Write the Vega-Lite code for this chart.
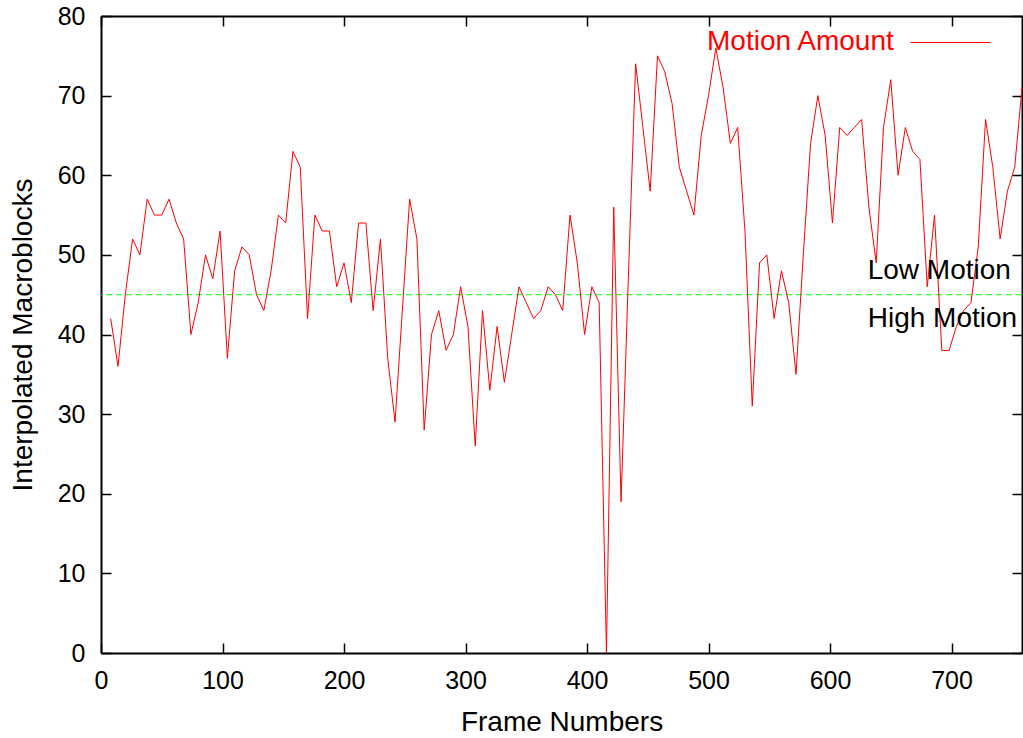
{
  "$schema": "https://vega.github.io/schema/vega-lite/v6.json",
  "width": 921,
  "height": 637,
  "autosize": {"type": "none"},
  "padding": {"left": 101, "top": 16, "right": 1, "bottom": 85},
  "background": "white",
  "config": {
    "view": {"stroke": null},
    "font": "Liberation Sans",
    "axis": {
      "domainColor": "black",
      "domainWidth": 2,
      "tickColor": "black",
      "tickWidth": 1.5,
      "tickSize": -10,
      "grid": false,
      "labelFlush": false,
      "labelOverlap": false,
      "labelFont": "Liberation Sans",
      "labelFontSize": 25,
      "labelColor": "black",
      "titleFont": "Liberation Sans",
      "titleFontSize": 28,
      "titleFontWeight": "normal",
      "titleColor": "black"
    }
  },
  "datasets": {
    "motion": [
      {"frame": 8, "value": 42}, {"frame": 14, "value": 36}, {"frame": 20, "value": 45}, {"frame": 26, "value": 52},
      {"frame": 32, "value": 50}, {"frame": 38, "value": 57}, {"frame": 44, "value": 55}, {"frame": 50, "value": 55},
      {"frame": 56, "value": 57}, {"frame": 62, "value": 54}, {"frame": 68, "value": 52}, {"frame": 74, "value": 40},
      {"frame": 80, "value": 44}, {"frame": 86, "value": 50}, {"frame": 92, "value": 47}, {"frame": 98, "value": 53},
      {"frame": 104, "value": 37}, {"frame": 110, "value": 48}, {"frame": 116, "value": 51}, {"frame": 122, "value": 50},
      {"frame": 128, "value": 45}, {"frame": 134, "value": 43}, {"frame": 140, "value": 48}, {"frame": 146, "value": 55},
      {"frame": 152, "value": 54}, {"frame": 158, "value": 63}, {"frame": 164, "value": 61}, {"frame": 170, "value": 42},
      {"frame": 176, "value": 55}, {"frame": 182, "value": 53}, {"frame": 188, "value": 53}, {"frame": 194, "value": 46},
      {"frame": 200, "value": 49}, {"frame": 206, "value": 44}, {"frame": 212, "value": 54}, {"frame": 218, "value": 54},
      {"frame": 224, "value": 43}, {"frame": 230, "value": 52}, {"frame": 236, "value": 37}, {"frame": 242, "value": 29},
      {"frame": 248, "value": 43}, {"frame": 254, "value": 57}, {"frame": 260, "value": 52}, {"frame": 266, "value": 28},
      {"frame": 272, "value": 40}, {"frame": 278, "value": 43}, {"frame": 284, "value": 38}, {"frame": 290, "value": 40},
      {"frame": 296, "value": 46}, {"frame": 302, "value": 41}, {"frame": 308, "value": 26}, {"frame": 314, "value": 43},
      {"frame": 320, "value": 33}, {"frame": 326, "value": 41}, {"frame": 332, "value": 34}, {"frame": 338, "value": 40},
      {"frame": 344, "value": 46}, {"frame": 350, "value": 44}, {"frame": 356, "value": 42}, {"frame": 362, "value": 43},
      {"frame": 368, "value": 46}, {"frame": 374, "value": 45}, {"frame": 380, "value": 43}, {"frame": 386, "value": 55},
      {"frame": 392, "value": 49}, {"frame": 398, "value": 40}, {"frame": 404, "value": 46}, {"frame": 410, "value": 44},
      {"frame": 416, "value": 0}, {"frame": 422, "value": 56}, {"frame": 428, "value": 19}, {"frame": 434, "value": 47},
      {"frame": 440, "value": 74}, {"frame": 446, "value": 66}, {"frame": 452, "value": 58}, {"frame": 458, "value": 75},
      {"frame": 464, "value": 73}, {"frame": 470, "value": 69}, {"frame": 476, "value": 61}, {"frame": 482, "value": 58},
      {"frame": 488, "value": 55}, {"frame": 494, "value": 65}, {"frame": 500, "value": 70}, {"frame": 506, "value": 76},
      {"frame": 512, "value": 71}, {"frame": 518, "value": 64}, {"frame": 524, "value": 66}, {"frame": 530, "value": 53},
      {"frame": 536, "value": 31}, {"frame": 542, "value": 49}, {"frame": 548, "value": 50}, {"frame": 554, "value": 42},
      {"frame": 560, "value": 48}, {"frame": 566, "value": 44}, {"frame": 572, "value": 35}, {"frame": 578, "value": 50},
      {"frame": 584, "value": 64}, {"frame": 590, "value": 70}, {"frame": 596, "value": 65}, {"frame": 602, "value": 54},
      {"frame": 608, "value": 66}, {"frame": 614, "value": 65}, {"frame": 620, "value": 66}, {"frame": 626, "value": 67},
      {"frame": 632, "value": 56}, {"frame": 638, "value": 49}, {"frame": 644, "value": 66}, {"frame": 650, "value": 72},
      {"frame": 656, "value": 60}, {"frame": 662, "value": 66}, {"frame": 668, "value": 63}, {"frame": 674, "value": 62},
      {"frame": 680, "value": 46}, {"frame": 686, "value": 55}, {"frame": 692, "value": 38}, {"frame": 698, "value": 38},
      {"frame": 704, "value": 41}, {"frame": 710, "value": 43}, {"frame": 716, "value": 44}, {"frame": 722, "value": 51},
      {"frame": 728, "value": 67}, {"frame": 734, "value": 61}, {"frame": 740, "value": 52}, {"frame": 746, "value": 58},
      {"frame": 752, "value": 61}, {"frame": 758, "value": 71}
    ]
  },
  "layer": [
    {
      "data": {"name": "motion"},
      "mark": {"type": "point", "opacity": 0},
      "encoding": {
        "x": {"field": "frame", "type": "quantitative",
              "axis": {"orient": "top", "labels": false, "title": null, "values": [0, 100, 200, 300, 400, 500, 600, 700]}},
        "y": {"field": "value", "type": "quantitative",
              "axis": {"orient": "right", "labels": false, "title": null, "values": [0, 10, 20, 30, 40, 50, 60, 70, 80]}}
      }
    },
    {
      "data": {"values": [{}]},
      "mark": {"type": "rule", "color": "#00ff00", "strokeWidth": 1, "strokeDash": [6, 4]},
      "encoding": {"y": {"datum": 45, "type": "quantitative", "axis": null}}
    },
    {
      "data": {"name": "motion"},
      "mark": {"type": "line", "strokeWidth": 1, "interpolate": "linear"},
      "encoding": {
        "x": {"field": "frame", "type": "quantitative",
              "scale": {"domain": [0, 758], "nice": false, "zero": false},
              "axis": {"orient": "bottom", "title": "Frame Numbers", "values": [0, 100, 200, 300, 400, 500, 600, 700],
                       "labelPadding": 25, "titlePadding": 15}},
        "y": {"field": "value", "type": "quantitative",
              "scale": {"domain": [0, 80], "nice": false},
              "axis": {"orient": "left", "title": "Interpolated Macroblocks", "values": [0, 10, 20, 30, 40, 50, 60, 70, 80],
                       "labelPadding": 26, "titlePadding": 20}},
        "color": {"datum": "Motion Amount", "type": "nominal",
                  "scale": {"range": ["#ff0000"]},
                  "legend": {"orient": "none", "legendX": 606, "legendY": 21, "title": "Motion Amount", "titleOrient": "left",
                             "titleLimit": 600,
                             "titleColor": "#ff0000", "titleFont": "Liberation Sans", "titleFontSize": 28, "titleFontWeight": "normal",
                             "titlePadding": 14, "labelExpr": "''", "symbolType": "M-1,-0.5H7", "symbolSize": 400,
                             "symbolStrokeWidth": 1, "symbolStrokeColor": "#ff0000", "symbolFillColor": "transparent",
                             "labelFontSize": 1, "labelOffset": 0}}
      }
    },
    {
      "data": {"values": [{}]},
      "mark": {"type": "text", "text": "Low Motion", "align": "left", "baseline": "middle", "font": "Liberation Sans", "fontSize": 28, "color": "black"},
      "encoding": {"x": {"datum": 631, "type": "quantitative", "axis": null}, "y": {"datum": 48, "type": "quantitative", "axis": null}}
    },
    {
      "data": {"values": [{}]},
      "mark": {"type": "text", "text": "High Motion", "align": "left", "baseline": "middle", "font": "Liberation Sans", "fontSize": 28, "color": "black"},
      "encoding": {"x": {"datum": 631, "type": "quantitative", "axis": null}, "y": {"datum": 42, "type": "quantitative", "axis": null}}
    }
  ],
  "resolve": {"axis": {"x": "independent", "y": "independent"}}
}
